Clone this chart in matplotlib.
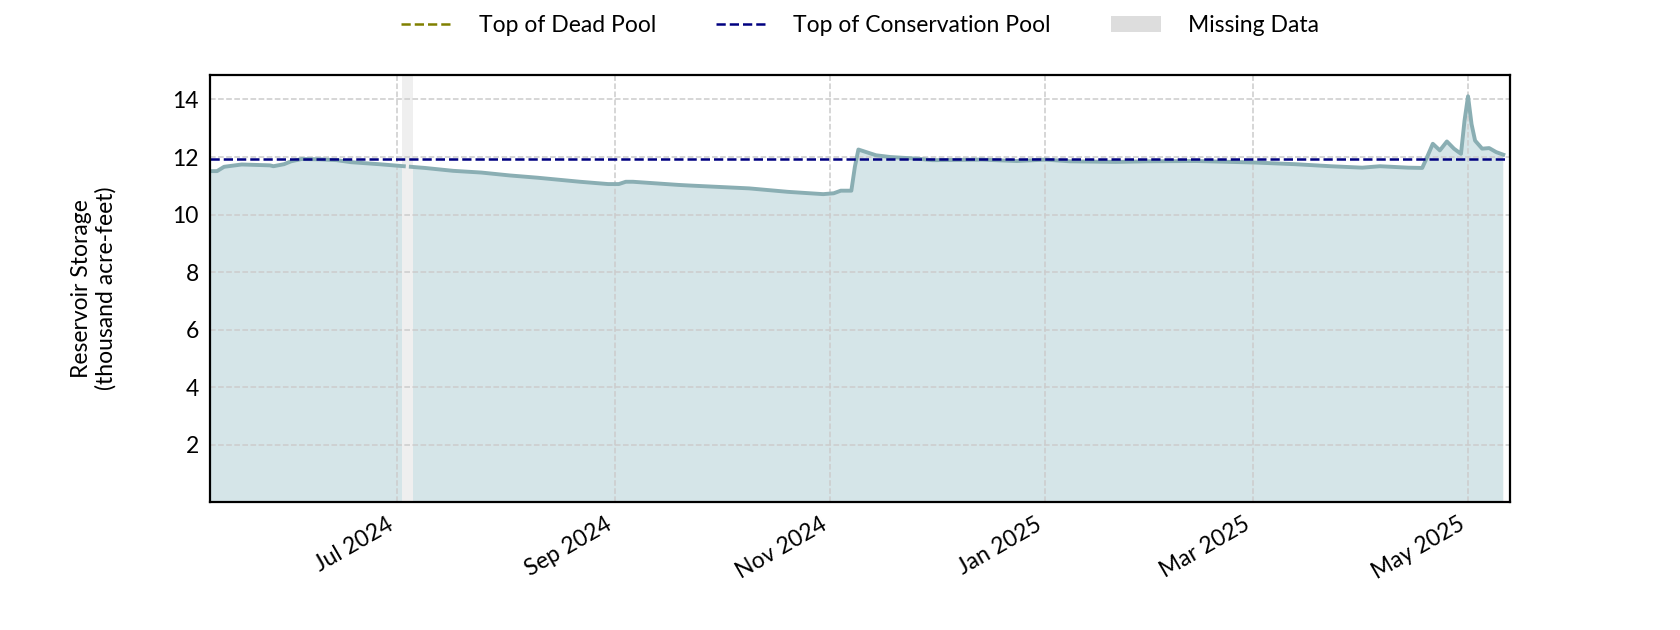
import numpy as np
import pandas as pd
import matplotlib
matplotlib.use("Agg")
import matplotlib.pyplot as plt
from matplotlib.lines import Line2D
from matplotlib.patches import Patch
import matplotlib.dates as mdates

plt.rcParams['font.family'] = ['Lato', 'DejaVu Sans']

# storage readings, thousand acre-feet
dates = ["2024-05-09", "2024-05-11", "2024-05-13", "2024-05-18", "2024-05-26",
         "2024-05-27", "2024-05-30", "2024-06-01", "2024-06-04", "2024-06-09",
         "2024-06-14", "2024-06-18", "2024-06-26", "2024-07-03", "2024-07-04",
         "2024-07-05", "2024-07-09", "2024-07-17", "2024-07-25", "2024-08-02",
         "2024-08-10", "2024-08-22", "2024-08-30", "2024-09-02", "2024-09-04",
         "2024-09-06", "2024-09-19", "2024-09-22", "2024-10-09", "2024-10-20",
         "2024-10-30", "2024-11-02", "2024-11-04", "2024-11-07", "2024-11-08",
         "2024-11-09", "2024-11-14", "2024-11-18", "2024-11-26", "2024-11-30",
         "2024-12-14", "2024-12-24", "2025-01-01", "2025-01-08", "2025-01-21",
         "2025-01-30", "2025-02-13", "2025-03-01", "2025-03-13", "2025-03-23",
         "2025-04-01", "2025-04-06", "2025-04-14", "2025-04-18", "2025-04-19",
         "2025-04-21", "2025-04-23", "2025-04-25", "2025-04-27", "2025-04-29",
         "2025-04-30", "2025-05-01", "2025-05-02", "2025-05-03", "2025-05-05",
         "2025-05-07", "2025-05-09", "2025-05-11"]
storage = [11.51, 11.51, 11.66, 11.74, 11.71,
           11.68, 11.75, 11.85, 11.93, 11.92,
           11.89, 11.82, 11.75, 11.68, np.nan,
           11.66, 11.62, 11.52, 11.46, 11.36,
           11.28, 11.14, 11.06, 11.06, 11.14,
           11.14, 11.03, 11.01, 10.91, 10.79,
           10.71, 10.74, 10.83, 10.83, 11.66,
           12.26, 12.06, 12.00, 11.94, 11.89,
           11.91, 11.86, 11.91, 11.85, 11.83,
           11.85, 11.86, 11.81, 11.75, 11.68,
           11.63, 11.68, 11.63, 11.62, 11.89,
           12.46, 12.23, 12.54, 12.29, 12.11,
           13.26, 14.11, 13.14, 12.57, 12.29,
           12.31, 12.17, 12.08]

dead_pool = 0.0
conservation_pool = 11.94
missing = ("2024-07-02 12:00", "2024-07-05 14:00")

dt = pd.to_datetime(dates)
vals = np.array(storage, dtype=float)

fs = 16.5

fig = plt.figure(figsize=(16.8, 6.3), dpi=100)
ax = fig.add_axes([0.125, 0.2025, 0.774, 0.6785])

ax.fill_between(dt, 0, vals, color='#d5e5e8', lw=0, zorder=1)
ax.plot(dt, vals, color='#8aaeb3', lw=2.8, zorder=3)
ax.axvspan(pd.Timestamp(missing[0]), pd.Timestamp(missing[1]),
           color='#efefef', lw=0, zorder=2)
ax.axhline(dead_pool, color='olive', ls='--', lw=1.8, zorder=4)
ax.axhline(conservation_pool, color='navy', ls='--', lw=1.8, zorder=4)

ax.set_xlim(dt[0], pd.Timestamp("2025-05-13"))
ax.set_ylim(0, 14.85)
ax.set_yticks(range(2, 15, 2))
ax.xaxis.set_major_locator(mdates.MonthLocator(bymonth=[1, 3, 5, 7, 9, 11]))
ax.xaxis.set_major_formatter(mdates.DateFormatter('%b %Y'))
plt.setp(ax.get_xticklabels(), rotation=30, ha='right')
ax.tick_params(length=0, labelsize=fs, pad=8)

ax.grid(True, ls='--', color='#cccccc', lw=1.1)
ax.set_axisbelow(False)
for s in ax.spines.values():
    s.set_linewidth(1.6)
    s.set_zorder(5)

ax.set_ylabel('Reservoir Storage\n(thousand acre-feet)', fontsize=fs, labelpad=40)

handles = [Line2D([], [], color='olive', ls='--', lw=1.8),
           Line2D([], [], color='navy', ls='--', lw=1.8),
           Patch(facecolor='#dddddd', edgecolor='none')]
labels = ['Top of Dead Pool', 'Top of Conservation Pool', 'Missing Data']
ax.legend(handles, labels, loc='center', bbox_to_anchor=(0.5, 1.115), ncol=3,
          frameon=False, fontsize=fs, columnspacing=2.6, handlelength=2.2,
          handletextpad=1.2)

fig.savefig('out.png', dpi=100)
